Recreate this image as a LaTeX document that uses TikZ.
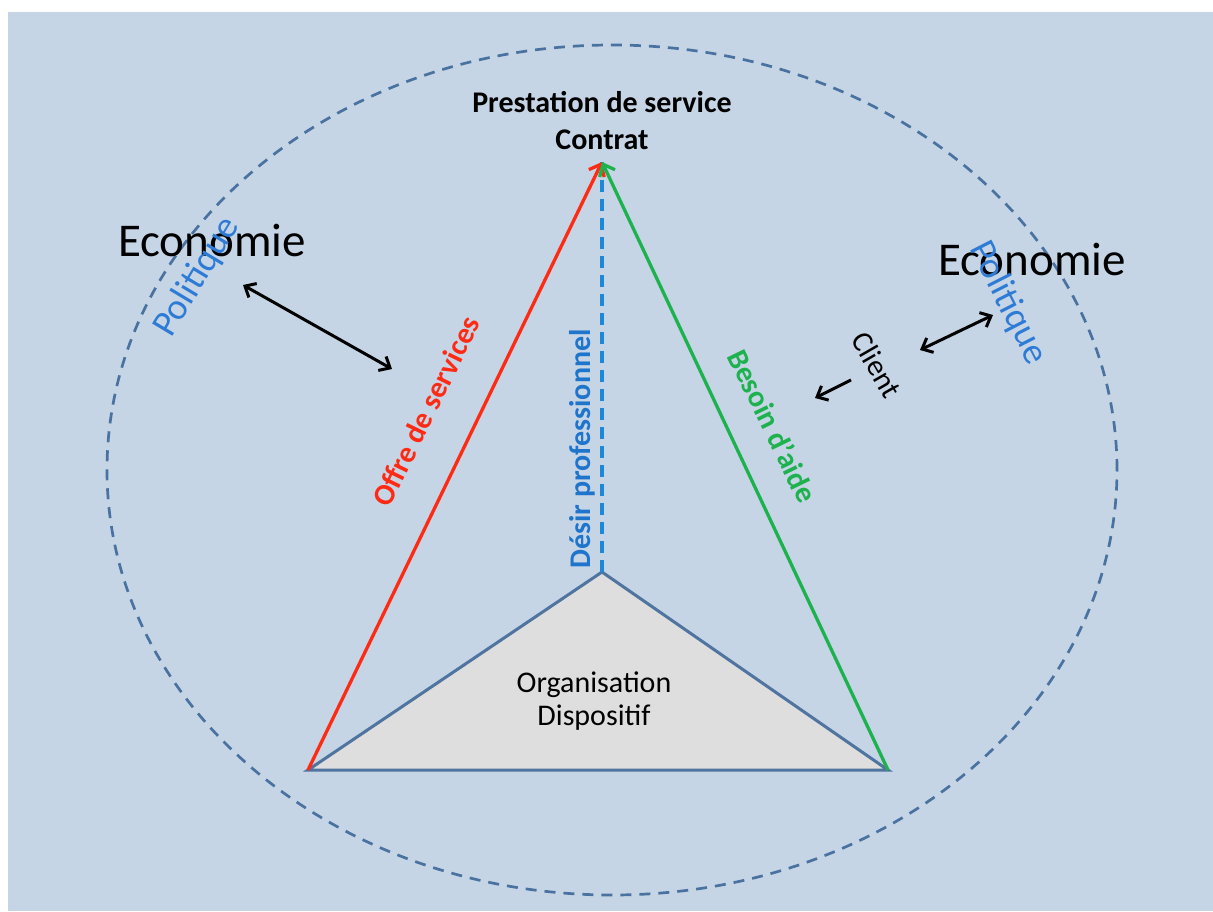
\documentclass[tikz,border=0pt]{standalone}
\usepackage{fontspec}
\setmainfont{Carlito}
\usetikzlibrary{arrows.meta}
\definecolor{bgc}{HTML}{C5D5E5}
\definecolor{ellc}{HTML}{4A72A0}
\definecolor{tric}{HTML}{4F74A0}
\definecolor{trifill}{HTML}{DEDEDE}
\definecolor{redc}{HTML}{FF2A14}
\definecolor{greenc}{HTML}{1DB24E}
\definecolor{dashblue}{HTML}{1E88D8}
\definecolor{polblue}{HTML}{2E7BD6}
\definecolor{desirblue}{HTML}{1F74CC}
\begin{document}
\begin{tikzpicture}[x=1pt,y=-1pt,
  boldlbl/.style={font=\fontsize{30}{37}\selectfont\bfseries, inner sep=0pt, align=center},
  biglbl/.style={font=\fontsize{47}{55}\selectfont, inner sep=0pt},
  pollbl/.style={font=\fontsize{37}{44}\selectfont, text=polblue, inner sep=0pt},
  midlbl/.style={font=\fontsize{30}{33}\selectfont, inner sep=0pt, align=center},
  blackarrow/.style={draw=black, line width=3pt, {Straight Barb[length=9pt,width=16pt]}-{Straight Barb[length=9pt,width=16pt]}},
  onearrow/.style={draw=black, line width=3pt, -{Straight Barb[length=9pt,width=16pt]}},
  sidearrow/.style={line width=3.3pt, -{Straight Barb[length=10pt,width=17pt]}}
]
\useasboundingbox (0,0) rectangle (1213,911);
\fill[bgc] (8,12) rectangle (1213,911);
\draw[ellc, line width=2.7pt, dash pattern=on 11pt off 8pt] (612,470) ellipse [x radius=505pt, y radius=425pt];

\coordinate (A) at (602,162);
\coordinate (L) at (308,770);
\coordinate (R) at (888,770);
\coordinate (I) at (602,572);

\filldraw[fill=trifill, draw=tric, line width=3pt, line join=miter] (L) -- (I) -- (R) -- cycle;
\draw[dashblue, line width=3.3pt, dash pattern=on 12pt off 7pt] (I) -- (A);
\draw[sidearrow, redc] (L) -- (A);
\draw[sidearrow, greenc] (R) -- (A);

\node[boldlbl] (top) at (602,121) {Prestation de service\\Contrat};

\node[midlbl] (org) at (594,701) {Organisation\\Dispositif};

\node[boldlbl, text=redc, rotate=64] (offre) at (426,411) {Offre de services};
\node[boldlbl, text=desirblue, rotate=90] (desir) at (582,449) {Désir professionnel};
\node[boldlbl, text=greenc, rotate=-64] (besoin) at (773,426) {Besoin d’aide};

\node[biglbl] (ecoL) at (212,240) {Economie};
\node[biglbl] (ecoR) at (1032,259) {Economie};
\node[pollbl, rotate=59] (polL) at (197,277) {Politique};
\node[pollbl, rotate=-63] (polR) at (1008,303) {Politique};
\node[midlbl, rotate=-60] (client) at (877,365) {Client};

\coordinate (la1) at (243,285);
\coordinate (la2) at (392,369);
\coordinate (ra1) at (920,350);
\coordinate (ra2) at (993,315);
\coordinate (ca1) at (851,380);
\coordinate (ca2) at (815,398);
\draw[blackarrow] (la1) -- (la2);
\draw[blackarrow] (ra1) -- (ra2);
\draw[onearrow] (ca1) -- (ca2);
\end{tikzpicture}
\end{document}
